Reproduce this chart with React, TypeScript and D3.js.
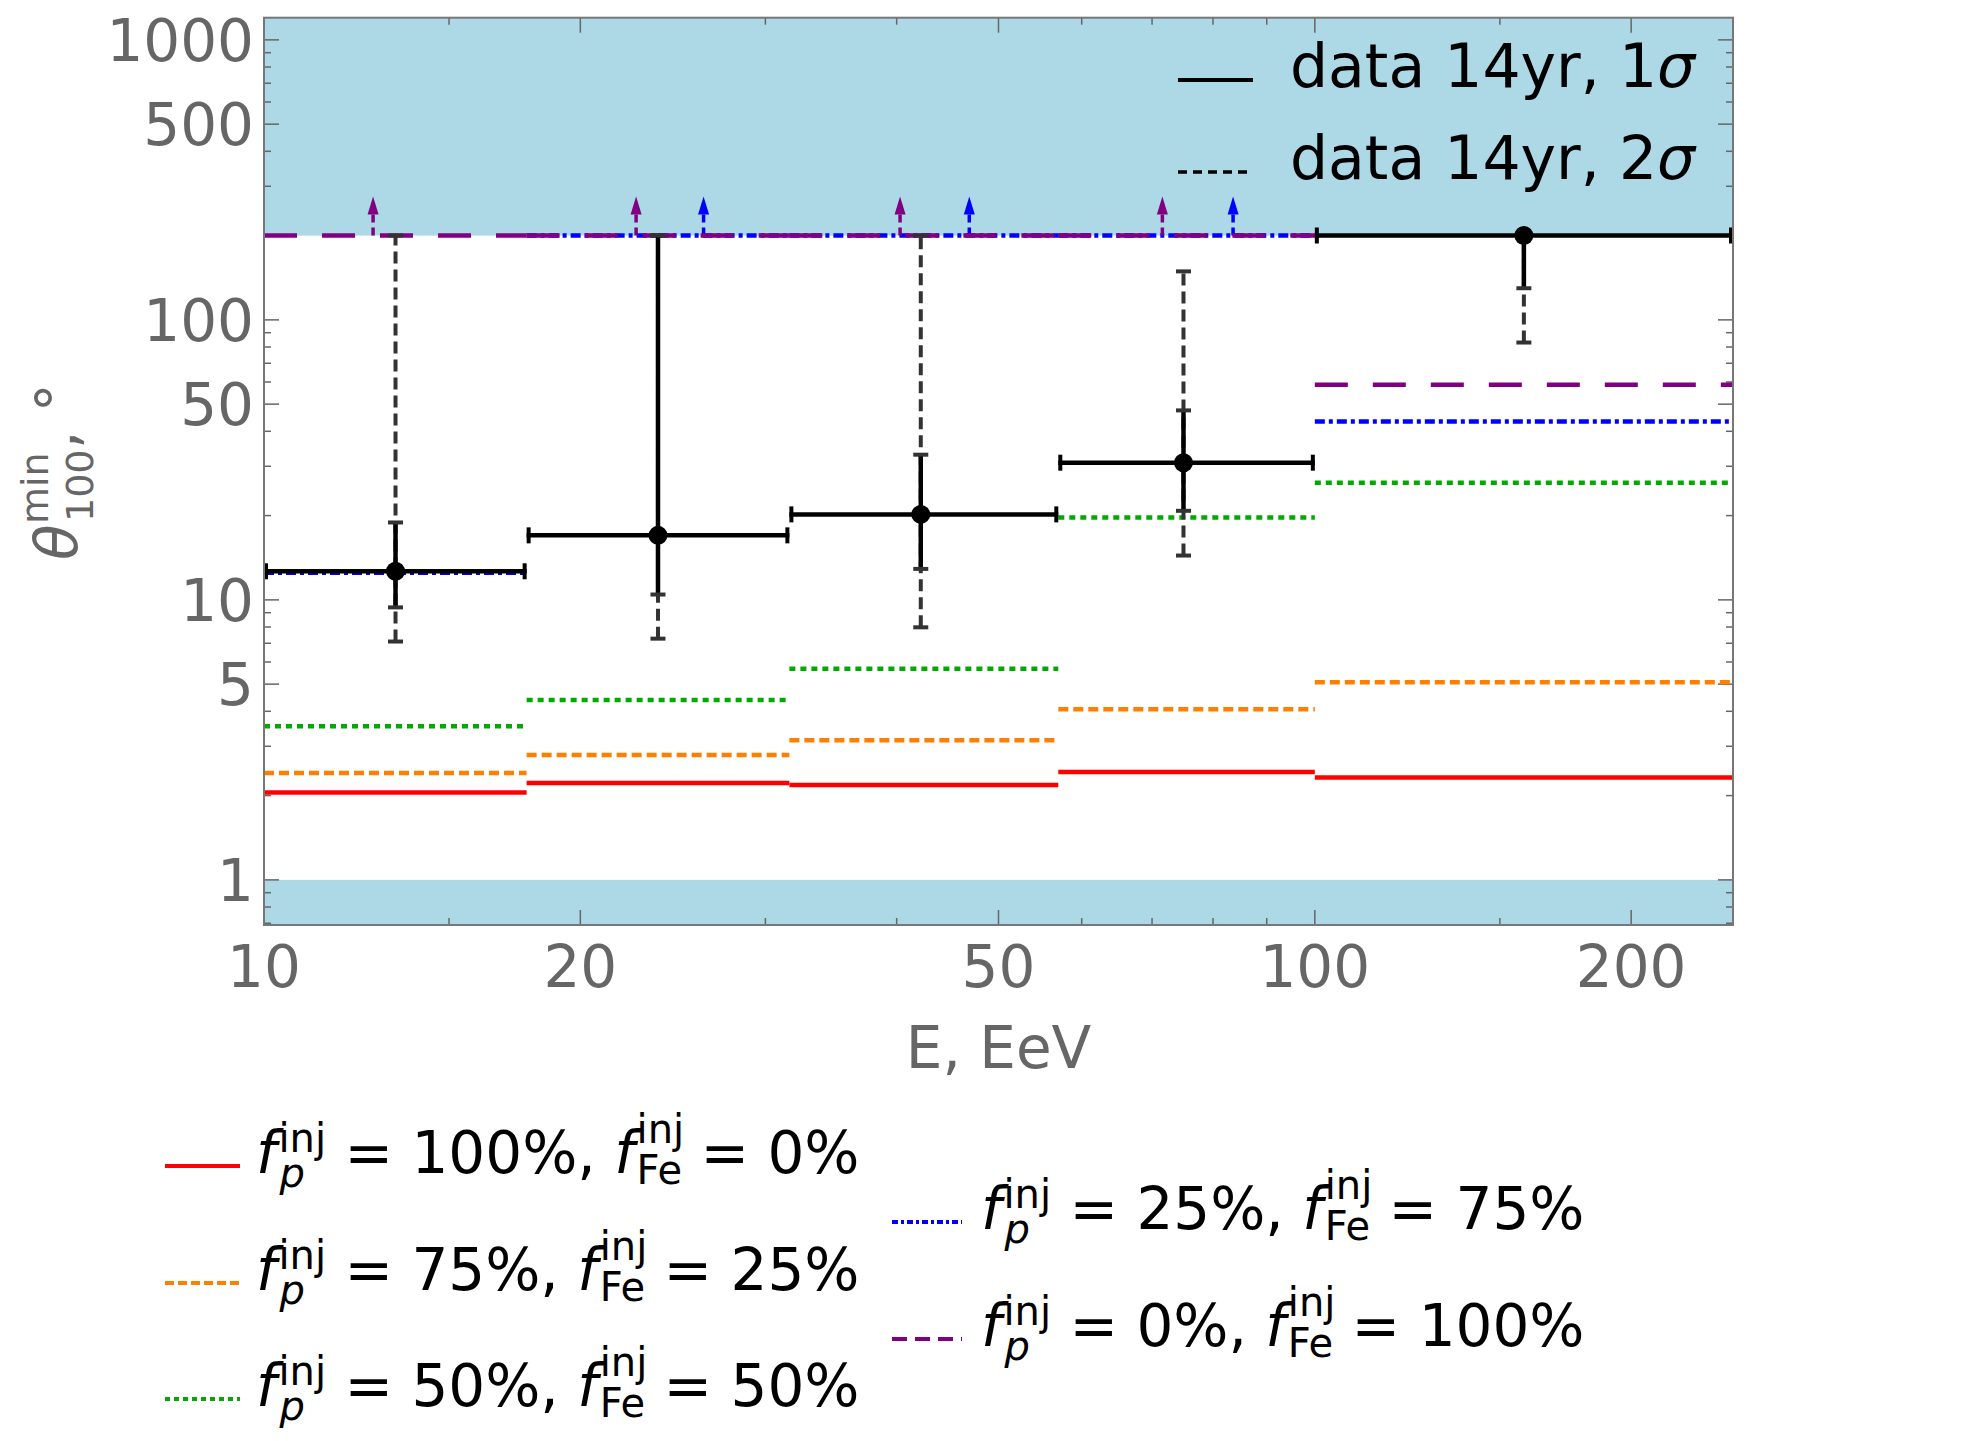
import React from 'react';
import * as d3 from 'd3';

const W = 1984;
const H = 1441;

// energy bins (EeV), last one open to the frame edge
const binEdges = [10, 17.78, 31.62, 57.0, 100, 250];
const binCenters = [13.34, 23.71, 42.17, 74.99, 158.1];

// measured theta_100^min with 1 sigma / 2 sigma ranges (degrees)
const thetaData = [12.65, 17.0, 20.2, 30.9, 200];
const sigma1Lo = [9.4, 10.45, 12.9, 20.8, 129.7];
const sigma1Hi = [18.9, 200, 33.0, 47.5, 200];
const sigma2Lo = [7.1, 7.27, 7.98, 14.4, 83.0];
const sigma2Hi = [200, 200, 200, 149, 200];

// model predictions per bin for the injected composition
const fp100 = [2.05, 2.22, 2.18, 2.43, 2.32];
const fp75 = [2.41, 2.79, 3.15, 4.07, 5.08];
const fp50 = [3.54, 4.39, 5.67, 19.7, 26.2];
const fp25 = [12.5, 200, 200, 200, 43.4];
const fp0 = [200, 200, 200, 200, 58.7];

// lower-limit arrows (energy where the arrow sits)
const fp25ArrowE = [26.2, 46.9, 83.6];
const fp0ArrowE = [12.7, 22.6, 40.3, 71.6];

const capValue = 200;
const lowBand = 1;

const xMajor = [10, 20, 50, 100, 200];
const xMinor = [15, 30, 40, 60, 70, 80, 90, 150];
const yMajor = [1, 5, 10, 50, 100, 500, 1000];
const yMinor = [0.7, 0.8, 0.9, 2, 3, 4, 6, 7, 8, 9, 20, 30, 40, 60, 70, 80, 90, 200, 300, 400, 600, 700, 800, 900];

const series = [
  { p: 100, fe: 0, values: fp100, color: '#ff0000', dash: 'none', legendDash: 'none', arrows: [] },
  { p: 75, fe: 25, values: fp75, color: '#ff8000', dash: '10,5', legendDash: '9,4', arrows: [] },
  { p: 50, fe: 50, values: fp50, color: '#00aa00', dash: '6,5', legendDash: '5,4', arrows: [] },
  { p: 25, fe: 75, values: fp25, color: '#0000ff', dash: '10,4,4,4', legendDash: '6,3,3,3', arrows: fp25ArrowE },
  { p: 0, fe: 100, values: fp0, color: '#800080', dash: '33,25', legendDash: '15,8', arrows: fp0ArrowE },
];

const FONT = 'DejaVu Sans';
const GRAY = '#666666';

const left = 264;
const right = 1733;
const top = 17.7;
const bottom = 925;

const x = d3.scaleLog().domain([10, 250]).range([left, right]);
const y = d3.scaleLog().domain([0.69, 1200]).range([bottom, top]);

// f_p^inj = a%, f_Fe^inj = b%
const FracLabel = ({ lx, ly, p, fe }) => {
  const fs = 58;
  const ss = 40;
  const injW = 1.19 * ss;
  const pW = 0.635 * ss;
  const feW = 1.19 * ss;
  return (
    <text x={lx} y={ly} fontFamily={FONT} fontSize={fs} fill="#000">
      <tspan fontStyle="italic">f</tspan>
      <tspan fontSize={ss} dx={2} dy={-21}>inj</tspan>
      <tspan fontSize={ss} fontStyle="italic" dx={-injW + 1} dy={35}>p</tspan>
      <tspan dx={injW - pW - 1} dy={-14}>{` = ${p}%, `}</tspan>
      <tspan fontStyle="italic">f</tspan>
      <tspan fontSize={ss} dx={2} dy={-30}>inj</tspan>
      <tspan fontSize={ss} dx={-injW} dy={41}>Fe</tspan>
      <tspan dx={injW - feW} dy={-11}>{` = ${fe}%`}</tspan>
    </text>
  );
};

const legendSlots = [
  { lx0: 165, lx1: 240, tx: 256, ly: 1166 },
  { lx0: 165, lx1: 240, tx: 256, ly: 1283 },
  { lx0: 165, lx1: 240, tx: 256, ly: 1399 },
  { lx0: 892, lx1: 962, tx: 981, ly: 1222 },
  { lx0: 892, lx1: 962, tx: 981, ly: 1339 },
];

const Arrow = ({ e, color }) => {
  const cx = x(e);
  const base = y(capValue);
  return (
    <g>
      <line x1={cx} x2={cx} y1={base} y2={base - 22} stroke={color} strokeWidth={3.5} strokeDasharray="8,5" />
      <path d={`M${cx - 5.5},${base - 21} L${cx + 5.5},${base - 21} L${cx},${base - 39} Z`} fill={color} />
    </g>
  );
};

export default function App() {
  const dataIdx = d3.range(thetaData.length);
  return (
    <svg width={W} height={H} style={{ position: 'absolute', left: 0, top: 0, background: '#fff' }}>
      <defs>
        <clipPath id="plot">
          <rect x={left} y={top} width={right - left} height={bottom - top} />
        </clipPath>
      </defs>

      {/* excluded regions */}
      <rect x={left} y={top} width={right - left} height={y(capValue) - top} fill="#add8e6" />
      <rect x={left} y={y(lowBand)} width={right - left} height={bottom - y(lowBand)} fill="#add8e6" />

      {/* ticks */}
      <g stroke={GRAY} strokeWidth={1.5}>
        {xMajor.map(v => (
          <g key={'xM' + v}>
            <line x1={x(v)} x2={x(v)} y1={bottom} y2={bottom - 15} />
            <line x1={x(v)} x2={x(v)} y1={top} y2={top + 15} />
          </g>
        ))}
        {xMinor.map(v => (
          <g key={'xm' + v}>
            <line x1={x(v)} x2={x(v)} y1={bottom} y2={bottom - 7} />
            <line x1={x(v)} x2={x(v)} y1={top} y2={top + 7} />
          </g>
        ))}
        {yMajor.map(v => (
          <g key={'yM' + v}>
            <line x1={left} x2={left + 15} y1={y(v)} y2={y(v)} />
            <line x1={right} x2={right - 15} y1={y(v)} y2={y(v)} />
          </g>
        ))}
        {yMinor.map(v => (
          <g key={'ym' + v}>
            <line x1={left} x2={left + 7} y1={y(v)} y2={y(v)} />
            <line x1={right} x2={right - 7} y1={y(v)} y2={y(v)} />
          </g>
        ))}
      </g>

      <g clipPath="url(#plot)">
        {/* model step lines */}
        {series.map((s, si) => (
          <g key={'s' + si}>
            {s.values.map((v, i) => (
              <line
                key={i}
                x1={x(binEdges[i])}
                x2={x(binEdges[i + 1])}
                y1={y(v)}
                y2={y(v)}
                stroke={s.color}
                strokeWidth={4.5}
                strokeDasharray={s.dash}
              />
            ))}
            {s.arrows.map((e, i) => <Arrow key={'a' + i} e={e} color={s.color} />)}
          </g>
        ))}

        {/* data: 2 sigma (dashed) */}
        {dataIdx.map(i => {
          const cx = x(binCenters[i]);
          return (
            <g key={'d2' + i} stroke="#333">
              <line x1={cx} x2={cx} y1={y(sigma2Lo[i])} y2={y(sigma2Hi[i])} strokeWidth={4} strokeDasharray="12,6" />
              <line x1={cx - 7.5} x2={cx + 7.5} y1={y(sigma2Lo[i])} y2={y(sigma2Lo[i])} strokeWidth={4} />
              <line x1={cx - 7.5} x2={cx + 7.5} y1={y(sigma2Hi[i])} y2={y(sigma2Hi[i])} strokeWidth={4} />
            </g>
          );
        })}

        {/* data: 1 sigma (solid) and bin widths */}
        {dataIdx.map(i => {
          const cx = x(binCenters[i]);
          const cy = y(thetaData[i]);
          const x0 = x(binEdges[i]);
          const x1 = x(binEdges[i + 1]);
          return (
            <g key={'d1' + i}>
              <line x1={cx} x2={cx} y1={y(sigma1Lo[i])} y2={y(sigma1Hi[i])} stroke="#000" strokeWidth={4.5} />
              <line x1={cx - 7.5} x2={cx + 7.5} y1={y(sigma1Lo[i])} y2={y(sigma1Lo[i])} stroke="#333" strokeWidth={4} />
              <line x1={cx - 7.5} x2={cx + 7.5} y1={y(sigma1Hi[i])} y2={y(sigma1Hi[i])} stroke="#333" strokeWidth={4} />
              <line x1={x0} x2={x1} y1={cy} y2={cy} stroke="#000" strokeWidth={4.5} />
              <line x1={x0 + 2} x2={x0 + 2} y1={cy - 8} y2={cy + 8} stroke="#000" strokeWidth={4} />
              <line x1={x1 - 2} x2={x1 - 2} y1={cy - 8} y2={cy + 8} stroke="#000" strokeWidth={4} />
              <circle cx={cx} cy={cy} r={9.5} fill="#000" />
            </g>
          );
        })}
      </g>

      {/* frame */}
      <rect x={left} y={top} width={right - left} height={bottom - top} fill="none" stroke="#777" strokeWidth={2} />

      {/* tick labels */}
      <g fontFamily={FONT} fontSize={58} fill={GRAY}>
        {yMajor.map(v => (
          <text key={'yl' + v} x={254} y={y(v)} dy="0.36em" textAnchor="end">{v}</text>
        ))}
        {xMajor.map(v => (
          <text key={'xl' + v} x={x(v)} y={987} textAnchor="middle">{v}</text>
        ))}
        <text x={(left + right) / 2} y={1068} textAnchor="middle">E, EeV</text>
      </g>

      {/* y title */}
      <g transform="translate(77,471) rotate(-90)" fontFamily={FONT} fill={GRAY}>
        <text x={-89} y={0} fontSize={58} fontStyle="italic">θ</text>
        <text x={-53} y={-29} fontSize={38}>min</text>
        <text x={-51} y={16} fontSize={38}>100</text>
        <text x={22} y={0} fontSize={58}>, °</text>
      </g>

      {/* data legend */}
      <g fontFamily={FONT} fontSize={60} fill="#000">
        <line x1={1178} x2={1253} y1={80} y2={80} stroke="#000" strokeWidth={4} />
        <text x={1290} y={87}>data 14yr, 1<tspan fontStyle="italic">σ</tspan></text>
        <line x1={1178} x2={1253} y1={172} y2={172} stroke="#000" strokeWidth={3.5} strokeDasharray="9,6" />
        <text x={1290} y={179}>data 14yr, 2<tspan fontStyle="italic">σ</tspan></text>
      </g>

      {/* composition legend */}
      {series.map((s, i) => {
        const slot = legendSlots[i];
        return (
          <g key={'lg' + i}>
            <line x1={slot.lx0} x2={slot.lx1} y1={slot.ly} y2={slot.ly} stroke={s.color} strokeWidth={4} strokeDasharray={s.legendDash} />
            <FracLabel lx={slot.tx} ly={slot.ly + 7} p={s.p} fe={s.fe} />
          </g>
        );
      })}
    </svg>
  );
}
